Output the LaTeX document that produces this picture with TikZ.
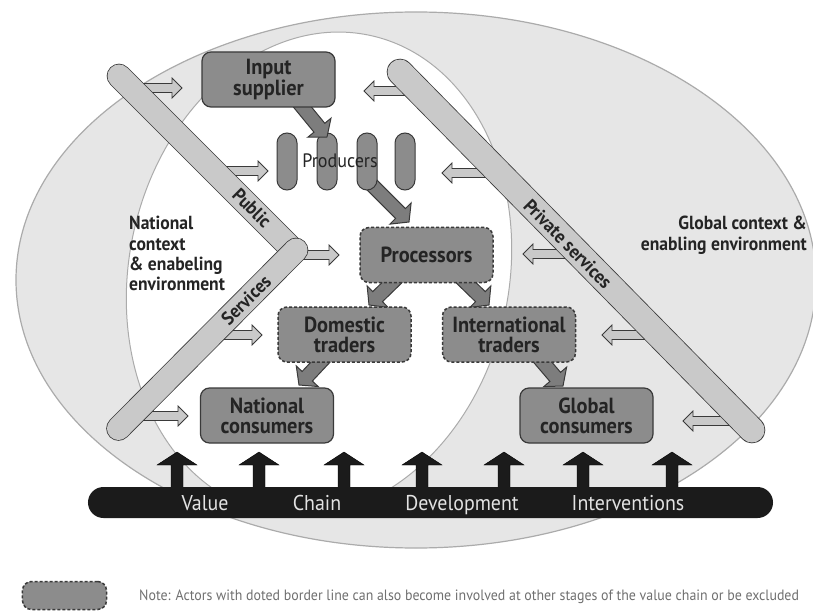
\documentclass[tikz,border=0pt]{standalone}
\usepackage{fontspec}
\setmainfont{PT Sans}[FakeStretch=0.93]
\usetikzlibrary{calc}

\definecolor{envgray}{HTML}{E6E6E6}
\definecolor{envline}{HTML}{ABABAB}
\definecolor{actorfill}{HTML}{8C8C8C}
\definecolor{actorline}{HTML}{3A3A3A}
\definecolor{actortext}{HTML}{242424}
\definecolor{servfill}{HTML}{C9C9C9}
\definecolor{flowfill}{HTML}{7D7D7D}
\definecolor{barblack}{HTML}{1B1B1B}
\definecolor{bartext}{HTML}{E2E2E2}
\definecolor{notegray}{HTML}{707070}

% block arrow: style, from, to, shaft half width, head half width, head length
\newcommand\blockarrow[6]{%
  \coordinate (ba-neck) at ($(#3)!#6!(#2)$);
  \draw[#1] ($(#2)!#4!90:(#3)$) -- ($(ba-neck)!#4!-90:(#2)$)
    -- ($(ba-neck)!#5!-90:(#2)$) -- (#3) -- ($(ba-neck)!#5!90:(#2)$)
    -- ($(ba-neck)!#4!90:(#2)$) -- ($(#2)!#4!-90:(#3)$) -- cycle;}

% rounded service bar between two points
\newcommand\servicebar[3]{%
  \draw[line width=#3+1.6bp, draw=actorline, line cap=round] (#1) -- (#2);
  \draw[line width=#3, draw=servfill, line cap=round] (#1) -- (#2);}

\tikzset{
  actor/.style={draw=actorline, line width=1.2bp, fill=actorfill,
    rounded corners=9bp, minimum width=133bp, minimum height=55bp,
    inner sep=0pt, align=center, text=actortext,
    font=\bfseries\fontsize{22}{20}\selectfont},
  mobile/.style={actor, dash pattern=on 3bp off 2bp, line width=1.5bp},
  pill/.style={draw=actorline, line width=1bp, fill=actorfill,
    rounded corners=10bp, minimum width=20bp, minimum height=57bp, inner sep=0pt},
  ctx/.style={inner sep=0pt, text=actortext,
    font=\bfseries\fontsize{19}{20.5}\selectfont},
  barlabel/.style={inner sep=0pt, text=actortext,
    font=\bfseries\fontsize{19}{19}\selectfont},
  vcdword/.style={inner sep=0pt, anchor=base, text=bartext,
    font=\fontsize{21.5}{22}\selectfont},
  servarrow/.style={draw=actorline, line width=0.8bp, fill=servfill},
  flowarrow/.style={draw=actorline, line width=1bp, fill=flowfill},
  uparrow/.style={fill=barblack},
}

\begin{document}
\begin{tikzpicture}[x=1bp, y=-1bp]
\useasboundingbox (0,0) rectangle (813,612);
\fill[white] (0,0) rectangle (813,612);

% global and national environments
\draw[envline, fill=envgray, line width=1.2bp] (416,280) ellipse [x radius=400, y radius=268];
\draw[envline, fill=white, line width=1bp, rotate around={-12:(319,274)}]
  (319,274) ellipse [x radius=190, y radius=244];

% support arrows from the public services
\coordinate (pa1s) at (135,88);  \coordinate (pa1e) at (182,88);
\coordinate (pa2s) at (218,171); \coordinate (pa2e) at (268,171);
\coordinate (pa3s) at (300,255); \coordinate (pa3e) at (339,255);
\coordinate (pa4s) at (215,335); \coordinate (pa4e) at (262,335);
\coordinate (pa5s) at (135,416); \coordinate (pa5e) at (188,416);
\foreach \i in {1,...,5}{\blockarrow{servarrow}{pa\i s}{pa\i e}{4.5bp}{10bp}{10bp}}

% support arrows from the private services
\coordinate (pb1s) at (420,91);  \coordinate (pb1e) at (364,91);
\coordinate (pb2s) at (500,173); \coordinate (pb2e) at (442,173);
\coordinate (pb3s) at (580,254); \coordinate (pb3e) at (523,254);
\coordinate (pb4s) at (660,335); \coordinate (pb4e) at (602,335);
\coordinate (pb5s) at (745,421); \coordinate (pb5e) at (683,421);
\foreach \i in {1,...,5}{\blockarrow{servarrow}{pb\i s}{pb\i e}{4.5bp}{10bp}{10bp}}

% service bars
\coordinate (pubA) at (119,76);    \coordinate (pubB) at (293,250);
\coordinate (srvA) at (118.5,428.5); \coordinate (srvB) at (296,250);
\coordinate (privA) at (400,72);   \coordinate (privB) at (752,430);
\servicebar{pubA}{pubB}{23bp}
\servicebar{srvA}{srvB}{23bp}
\servicebar{privA}{privB}{25bp}

\node[barlabel, rotate=-45] (publbl) at (252,208) {Public};
\node[barlabel, rotate=45] (srvlbl) at (246,300) {Services};
\node[barlabel, rotate=-45.5] (privlbl) at (568,244) {Private services};

% flows between actors (drawn under the boxes)
\coordinate (f2s) at (372,185); \coordinate (f2e) at (409,222);
\coordinate (f3s) at (405,270); \coordinate (f3e) at (369,305);
\coordinate (f4s) at (455,272); \coordinate (f4e) at (489,305);
\coordinate (f5s) at (330,352); \coordinate (f5e) at (299,385);
\coordinate (f6s) at (528,345); \coordinate (f6e) at (563,386);
\foreach \i in {2,...,6}{\blockarrow{flowarrow}{f\i s}{f\i e}{7bp}{15bp}{12bp}}

% producers
\node[pill] (prod1) at (287,161.5) {};
\node[pill] (prod2) at (327,161.5) {};
\node[pill] (prod3) at (367,161.5) {};
\node[pill] (prod4) at (405,161.5) {};

\coordinate (f1s) at (295,98); \coordinate (f1e) at (327,137);
\blockarrow{flowarrow}{f1s}{f1e}{7bp}{15bp}{12bp}

\node[inner sep=0pt, text=actortext, font=\fontsize{19.5}{19.5}\selectfont]
  (prodlbl) at (340,161) {Producers};

% actors
\node[actor] (input) at (268.5,79.5) {Input\\supplier};
\node[mobile] (proc) at (426.5,255) {Processors};
\node[mobile] (dom) at (344.5,334.5) {Domestic\\traders};
\node[mobile] (intl) at (509,334.5) {International\\traders};
\node[actor] (natcons) at (267,415.5) {National\\consumers};
\node[actor] (globcons) at (586.5,415.5) {Global\\consumers};

% context labels
\node[ctx, anchor=north west, align=left] (natctx) at (129,216)
  {National\\context\\\& enabeling\\environment};
\node[ctx, anchor=north east, align=right] (globctx) at (807,216)
  {Global context \&\\enabling environment};

% value chain development interventions
\foreach \x [count=\i] in {177,259,344,422,504,583,672}{
  \coordinate (up\i s) at (\x,500);
  \coordinate (up\i e) at (\x,452);
  \blockarrow{uparrow}{up\i s}{up\i e}{6bp}{20bp}{13bp}}
\node[fill=barblack, rounded corners=15.5bp, minimum width=685bp,
  minimum height=31bp, inner sep=0pt] (vcd) at (430.5,502.5) {};
\node[vcdword] (w1) at (205,510.5) {Value};
\node[vcdword] (w2) at (317,510.5) {Chain};
\node[vcdword] (w3) at (462,510.5) {Development};
\node[vcdword] (w4) at (628,510.5) {Interventions};

% legend
\node[mobile, minimum width=84bp, minimum height=28bp] (legend) at (64.5,595.5) {};
\node[anchor=west, inner sep=0pt, text=notegray, font=\fontsize{15}{15}\selectfont]
  (note) at (139,597)
  {Note: Actors with doted border line can also become involved at other stages of the value chain or be excluded};
\end{tikzpicture}
\end{document}
